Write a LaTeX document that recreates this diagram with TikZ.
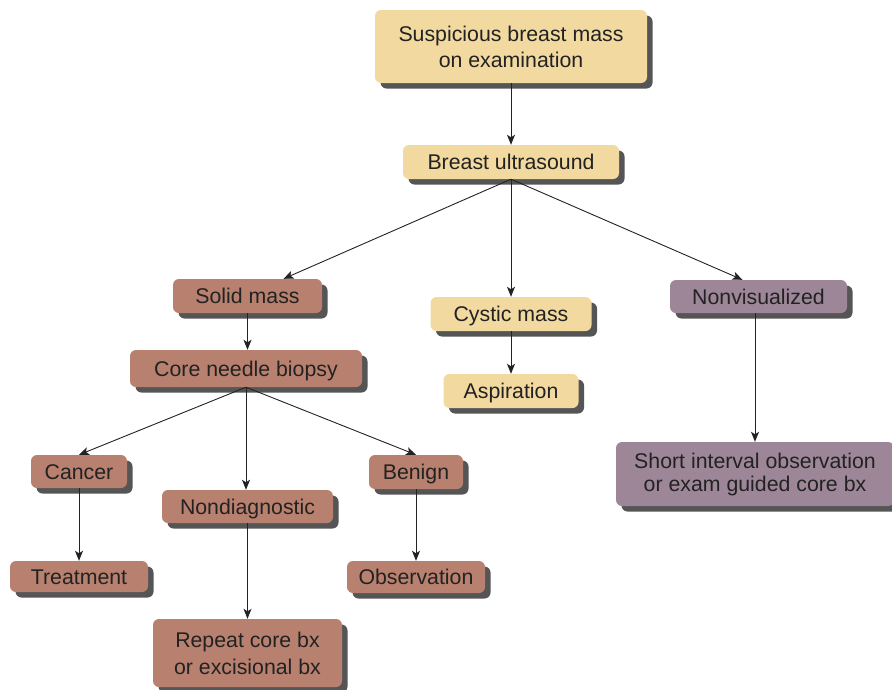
\documentclass[tikz,border=0pt]{standalone}
\usepackage{fontspec}
\setmainfont{Liberation Sans}
\usetikzlibrary{shadows,arrows.meta}

\definecolor{boxyellow}{HTML}{F2D9A0}
\definecolor{boxbrown}{HTML}{B8806E}
\definecolor{boxpurple}{HTML}{9E8699}
\definecolor{inkdark}{HTML}{222222}
\definecolor{shade}{HTML}{555555}

\tikzset{
  box/.style={rectangle, rounded corners=6pt, inner sep=0pt, text=inkdark,
    font=\fontsize{21.3}{26}\selectfont, text height=15pt, text depth=0pt,
    drop shadow={shadow xshift=5.5pt, shadow yshift=-5.5pt, fill=shade, opacity=1}},
  twoline/.style={align=center, text height=, text depth=,
    font=\fontsize{21.3}{#1}\selectfont},
  ybox/.style={box, fill=boxyellow},
  bbox/.style={box, fill=boxbrown},
  pbox/.style={box, fill=boxpurple},
  link/.style={draw=inkdark, line width=0.9pt, -{Stealth[length=10pt,width=8pt,inset=2.5pt]}},
}

\begin{document}
\begin{tikzpicture}[x=1pt,y=-1pt]
\useasboundingbox (0,0) rectangle (892,689);

% top of the workup
\node[ybox, twoline=26pt, minimum width=272pt, minimum height=73pt] (exam) at (511,46.5)
  {Suspicious breast mass\\on examination};
\node[ybox, minimum width=216pt, minimum height=34pt] (us) at (511,162) {Breast ultrasound};

% ultrasound findings
\node[bbox, minimum width=149pt, minimum height=34pt] (solid) at (247.5,296) {Solid mass};
\node[ybox, minimum width=161pt, minimum height=34pt] (cystic) at (511,314) {Cystic mass};
\node[pbox, minimum width=177pt, minimum height=33pt] (nonvis) at (758.5,296.5) {Nonvisualized};

\node[bbox, minimum width=232pt, minimum height=37pt] (core) at (246,368.5) {Core needle biopsy};
\node[ybox, minimum width=135pt, minimum height=34pt] (asp) at (511,391) {Aspiration};
\node[pbox, twoline=23pt, minimum width=278pt, minimum height=64pt] (short) at (755,474)
  {Short interval observation\\or exam guided core bx};

% biopsy results
\node[bbox, minimum width=96pt, minimum height=33pt] (cancer) at (79,471.5) {Cancer};
\node[bbox, minimum width=171pt, minimum height=33pt] (nondiag) at (247.5,506.5) {Nondiagnostic};
\node[bbox, minimum width=94pt, minimum height=34pt] (benign) at (416,472) {Benign};

\node[bbox, minimum width=138pt, minimum height=31pt] (treat) at (79,576.5) {Treatment};
\node[bbox, minimum width=138pt, minimum height=32pt] (obs) at (416,577) {Observation};
\node[bbox, twoline=27pt, minimum width=189pt, minimum height=68pt] (repeat) at (247.5,653)
  {Repeat core bx\\or excisional bx};

% connectors
\draw[link] (exam.south) -- (us.north);
\draw[link] (us.south) -- ([xshift=36pt]solid.north);
\draw[link] (us.south) -- (cystic.north);
\draw[link] (us.south) -- ([xshift=-16pt]nonvis.north);
\draw[link] (solid.south) -- (solid.south |- core.north);
\draw[link] (cystic.south) -- (asp.north);
\draw[link] (nonvis.south -| short.north) -- (short.north);
\draw[link] (core.south) -- (cancer.north);
\draw[link] (core.south) -- (core.south |- nondiag.north);
\draw[link] (core.south) -- (benign.north);
\draw[link] (cancer.south) -- (treat.north);
\draw[link] (benign.south) -- (obs.north);
\draw[link] (nondiag.south) -- (repeat.north);
\end{tikzpicture}
\end{document}
